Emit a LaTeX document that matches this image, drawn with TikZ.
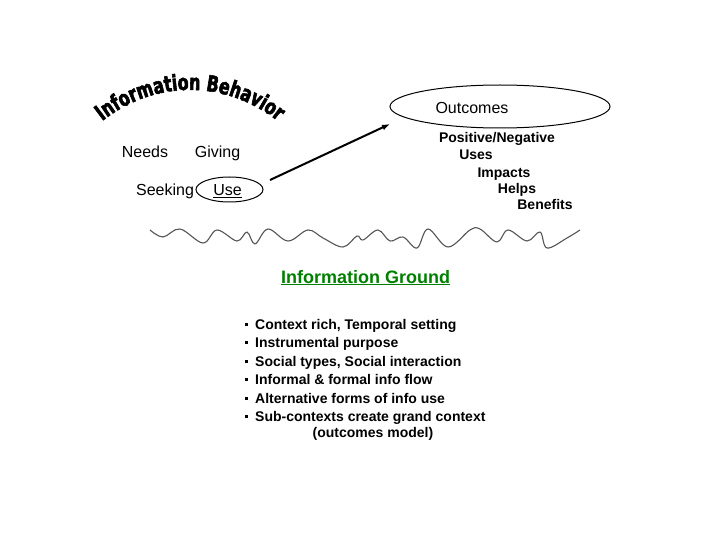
\documentclass[tikz,border=0pt]{standalone}
\usepackage{fontspec}
\setmainfont{Liberation Sans}
\newfontfamily\wafont[FakeStretch=0.72,FakeBold=2.5]{DejaVu Sans Bold}
\usetikzlibrary{decorations.text,arrows.meta,shapes.geometric}
\definecolor{ground}{RGB}{0,128,0}
\definecolor{wave}{RGB}{85,85,85}
\tikzset{
  lbl/.style={font=\fontsize{16}{18}\selectfont, inner sep=0pt, anchor=base},
  outl/.style={font=\bfseries\fontsize{14}{16}\selectfont, inner sep=0pt, anchor=base},
  item/.style={font=\bfseries\fontsize{14}{16}\selectfont, inner sep=0pt, anchor=base west},
  bul/.style={fill=black, minimum size=3pt, inner sep=0pt, draw=none},
  ring/.style={draw=black, ellipse, line width=1pt, inner sep=0pt},
}
\begin{document}
\begin{tikzpicture}[x=1pt,y=-1pt]
\useasboundingbox (0,0) rectangle (720,540);
\fill[white] (0,0) rectangle (720,540);

% WordArt title
\coordinate (waL) at (98,124.5);
\coordinate (waR) at (282,124.5);
\path[decorate, decoration={text along path, text align=center,
  text={|\wafont\fontsize{22}{22}\selectfont|Information Behavior}}]
  (waL) to[bend left=40] (waR);

% left labels
\node[lbl] (needs) at (145,158) {Needs};
\node[lbl] (giving) at (217.5,158) {Giving};
\node[lbl] (seeking) at (165,196) {Seeking};
\node[lbl] (use) at (227.5,196) {\underline{Use}};
\node[ring, minimum width=67pt, minimum height=25pt] (useell) at (229.5,189.5) {};

% arrow
\coordinate (arrS) at (270,180);
\coordinate (arrE) at (390,124);
\draw[line width=2pt, -{Latex[length=8pt,width=6pt]}] (arrS) -- (arrE);

% outcomes
\node[ring, minimum width=220pt, minimum height=43pt] (outell) at (500,106.5) {};
\node[lbl] (outcomes) at (472,114) {Outcomes};
\node[outl] (posneg) at (497,143) {Positive/Negative};
\node[outl] (uses) at (476,160) {Uses};
\node[outl] (impacts) at (504,178) {Impacts};
\node[outl] (helps) at (517,194) {Helps};
\node[outl] (benefits) at (545,210) {Benefits};

% wavy ground line
\draw[wave, line width=1.1pt, line join=round] plot[smooth, tension=0.6] coordinates {
 (150,230) (163,237) (180,229) (203,243) (217,230) (237,241) (247,232) (255,244)
 (268,229) (288,241) (308,230) (323,238) (343,247) (357,236) (363,240) (378,230)
 (390,241) (403,237) (417,248) (428,229) (448,247) (470,230) (480,229) (497,242)
 (508,230) (527,241) (540,232) (547,248) (567,238) (580,230)};

% information ground
\node[font=\bfseries\fontsize{18}{20}\selectfont, text=ground, inner sep=0pt, anchor=base] (ground) at (365.5,283) {\underline{Information Ground}};

% bullet list
\node[item] (i1) at (255,329) {Context rich, Temporal setting};
\node[item] (i2) at (255,347) {Instrumental purpose};
\node[item] (i3) at (255,366) {Social types, Social interaction};
\node[item] (i4) at (255,384) {Informal \& formal info flow};
\node[item] (i5) at (255,403) {Alternative forms of info use};
\node[item] (i6) at (255,421) {Sub-contexts create grand context};
\node[outl] (i7) at (373,437) {(outcomes model)};
\node[bul] (b1) at (246.5,324.5) {};
\node[bul] (b2) at (246.5,342.5) {};
\node[bul] (b3) at (246.5,361.5) {};
\node[bul] (b4) at (246.5,379.5) {};
\node[bul] (b5) at (246.5,398.5) {};
\node[bul] (b6) at (246.5,416.5) {};
\end{tikzpicture}
\end{document}
